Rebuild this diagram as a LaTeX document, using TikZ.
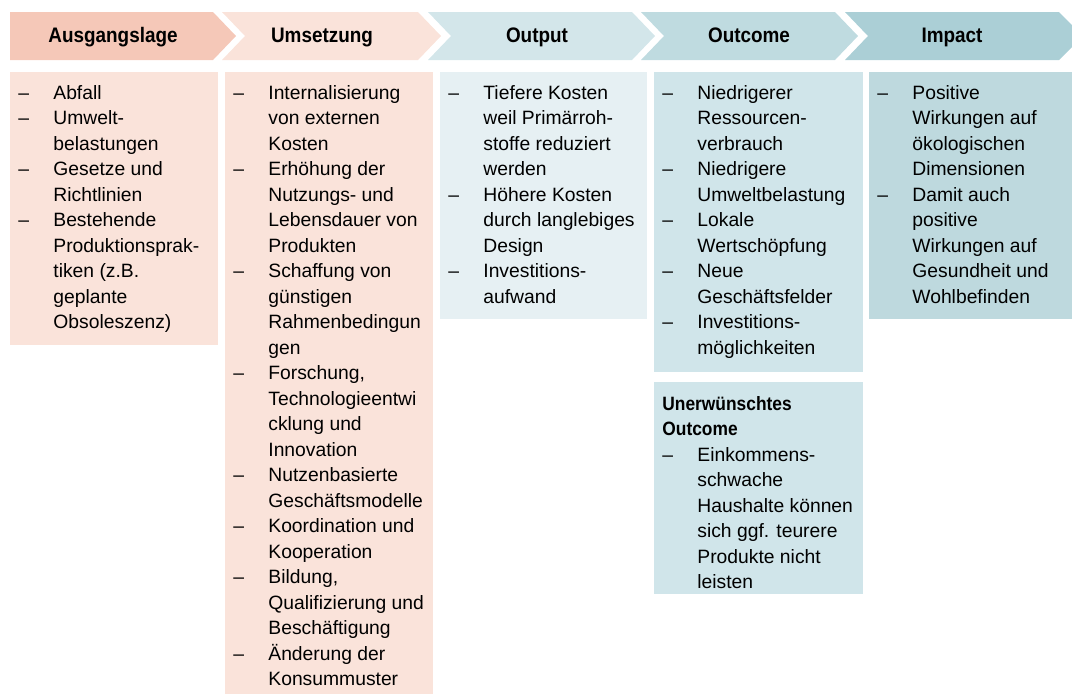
\documentclass[tikz,border=0pt]{standalone}
\usepackage{fontspec}
\setmainfont{Liberation Sans}
\newfontfamily\headfont[FakeStretch=0.9]{Liberation Sans}
\usepackage{tikz}
\usetikzlibrary{positioning}

\definecolor{rosedark}{HTML}{F5C8B8}
\definecolor{roselight}{HTML}{FAE3DA}
\definecolor{bluepale}{HTML}{E6F0F3}
\definecolor{bluelight}{HTML}{D3E6EA}
\definecolor{bluemid}{HTML}{BFDBE0}
\definecolor{bluedark}{HTML}{ABCFD6}
\definecolor{boxfour}{HTML}{D0E5EA}
\definecolor{boxfive}{HTML}{BED9DE}

\newcommand{\bodysize}{\fontsize{9.65}{12.75}\selectfont}

\tikzset{
  head/.style={anchor=base, inner sep=0pt, font=\headfont\bfseries\fontsize{10.5}{12}\selectfont},
  panel/.style={anchor=north west, inner sep=0pt, outer sep=0pt},
  txt/.style={anchor=north west, inner sep=0pt, font=\bodysize}
}

\begin{document}
\begin{tikzpicture}[x=0.5pt, y=-0.5pt]
                \useasboundingbox (0,0) rectangle (1072,693);

                % header chevrons
                \fill[rosedark]  (10,12) -- (213,12) -- (236,36) -- (213,60) -- (10,60) -- cycle;
                \fill[roselight] (222,12) -- (418,12) -- (441,36) -- (418,60) -- (222,60) -- (245,36) -- cycle;
                \fill[bluelight] (428,12) -- (632,12) -- (655,36) -- (632,60) -- (428,60) -- (451,36) -- cycle;
                \fill[bluemid]   (641,12) -- (835,12) -- (858,36) -- (835,60) -- (641,60) -- (664,36) -- cycle;
                \fill[bluedark]  (845,12) -- (1059,12) -- (1083,36) -- (1059,60) -- (845,60) -- (868,36) -- cycle;

                \node[head] (h1) at (113,42) {Ausgangslage};
                \node[head] (h2) at (322,42) {Umsetzung};
                \node[head] (h3) at (537,42) {Output};
                \node[head] (h4) at (749,42) {Outcome};
                \node[head] (h5) at (952,42) {Impact};

                % column panels
                \node[panel, fill=roselight, minimum width=104pt,   minimum height=136.5pt] (b1) at (10,72) {};
                \node[panel, fill=roselight, minimum width=104pt,   minimum height=312.5pt] (b2) at (225,72) {};
                \node[panel, fill=bluepale,  minimum width=103.5pt, minimum height=123.5pt] (b3) at (440,72) {};
                \node[panel, fill=boxfour,   minimum width=104.5pt, minimum height=150pt]   (b4) at (654,72) {};
                \node[panel, fill=boxfive,   minimum width=107.5pt, minimum height=123.5pt] (b5) at (869,72) {};
                \node[panel, fill=boxfour,   minimum width=104.5pt, minimum height=106pt]   (b6) at (654,382) {};

                % texts
                \node[txt] (t1) at (18,81) {\begin{tabular}{@{}p{17.5pt}@{}l@{}}
                  -- & Abfall\\
                  -- & Umwelt-\\
                     & belastungen\\
                  -- & Gesetze und\\
                     & Richtlinien\\
                  -- & Bestehende\\
                     & Produktionsprak-\\
                     & tiken (z.B.\\
                     & geplante\\
                     & Obsoleszenz)
                \end{tabular}};
                \node[txt] (t2) at (233,81) {\begin{tabular}{@{}p{17.5pt}@{}l@{}}
                  -- & Internalisierung\\
                     & von externen\\
                     & Kosten\\
                  -- & Erhöhung der\\
                     & Nutzungs- und\\
                     & Lebensdauer von\\
                     & Produkten\\
                  -- & Schaffung von\\
                     & günstigen\\
                     & Rahmenbedingun\\
                     & gen\\
                  -- & Forschung,\\
                     & Technologieentwi\\
                     & cklung und\\
                     & Innovation\\
                  -- & Nutzenbasierte\\
                     & Geschäftsmodelle\\
                  -- & Koordination und\\
                     & Kooperation\\
                  -- & Bildung,\\
                     & Qualifizierung und\\
                     & Beschäftigung\\
                  -- & Änderung der\\
                     & Konsummuster
                \end{tabular}};
                \node[txt] (t3) at (448,81) {\begin{tabular}{@{}p{17.5pt}@{}l@{}}
                  -- & Tiefere Kosten\\
                     & weil Primärroh-\\
                     & stoffe reduziert\\
                     & werden\\
                  -- & Höhere Kosten\\
                     & durch langlebiges\\
                     & Design\\
                  -- & Investitions-\\
                     & aufwand
                \end{tabular}};
                \node[txt] (t4) at (662,81) {\begin{tabular}{@{}p{17.5pt}@{}l@{}}
                  -- & Niedrigerer\\
                     & Ressourcen-\\
                     & verbrauch\\
                  -- & Niedrigere\\
                     & Umweltbelastung\\
                  -- & Lokale\\
                     & Wertschöpfung\\
                  -- & Neue\\
                     & Geschäftsfelder\\
                  -- & Investitions-\\
                     & möglichkeiten
                \end{tabular}};
                \node[txt] (t5) at (877,81) {\begin{tabular}{@{}p{17.5pt}@{}l@{}}
                  -- & Positive\\
                     & Wirkungen auf\\
                     & ökologischen\\
                     & Dimensionen\\
                  -- & Damit auch\\
                     & positive\\
                     & Wirkungen auf\\
                     & Gesundheit und\\
                     & Wohlbefinden
                \end{tabular}};
                \node[txt] (t6) at (662,392) {\begin{tabular}{@{}p{17.5pt}@{}l@{}}
                  \multicolumn{2}{@{}l@{}}{\headfont\bfseries Unerwünschtes}\\
                  \multicolumn{2}{@{}l@{}}{\headfont\bfseries Outcome}\\
                  -- & Einkommens-\\
                     & schwache\\
                     & Haushalte können\\
                     & sich ggf. teurere\\
                     & Produkte nicht\\
                     & leisten
                \end{tabular}};
\end{tikzpicture}
\end{document}
